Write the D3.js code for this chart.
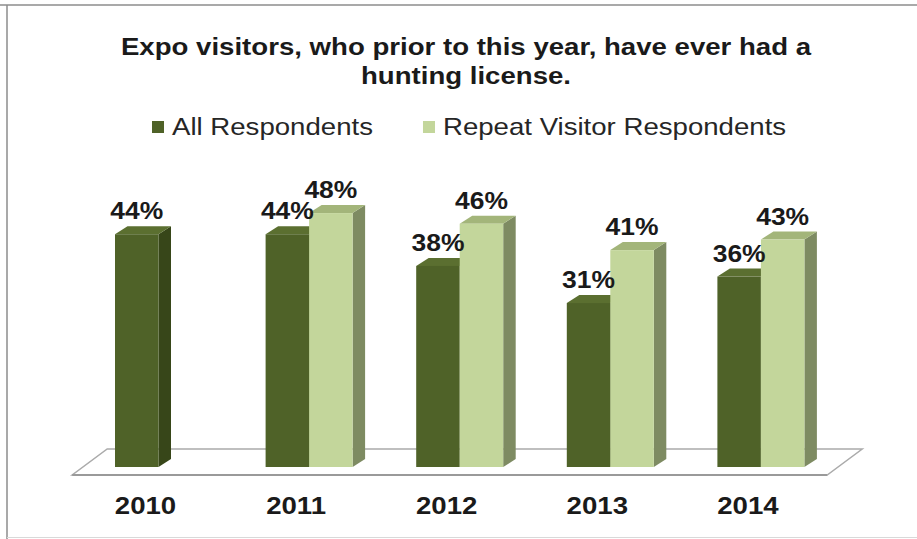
<!DOCTYPE html>
<html>
<head>
<meta charset="utf-8">
<script src="https://cdn.jsdelivr.net/npm/d3@7"></script>
<style>
  html, body { margin: 0; padding: 0; background: #ffffff; }
  svg { display: block; font-family: "Liberation Sans", Arial, sans-serif; }
</style>
</head>
<body>
<svg id="chart" width="917" height="539"></svg>
<script>
// ---- data ----
const titleLines = ["Expo visitors, who prior to this year, have ever had a", "hunting license."];
const categories = ["2010", "2011", "2012", "2013", "2014"];
const seriesNames = ["All Respondents", "Repeat Visitor Respondents"];
const allRespondents = [44, 44, 38, 31, 36];
const repeatVisitors = [null, 48, 46, 41, 43];

// ---- styles ----
const faceColors = [
  { front: "#4f6228", side: "#374619", top: "#5b6f30" },
  { front: "#c3d69b", side: "#7e8b62", top: "#a3b57a" }
];
const stretch = 1.15;

const svg = d3.select("#chart");
const W = 917, H = 539;

// frame
svg.append("rect").attr("x", 0).attr("y", 0).attr("width", W).attr("height", H).attr("fill", "#fff");
svg.append("line").attr("x1", 0).attr("x2", W).attr("y1", 5).attr("y2", 5).attr("stroke", "#8c8c8c").attr("stroke-width", 1.5);
svg.append("line").attr("x1", 7).attr("x2", 7).attr("y1", 5).attr("y2", H).attr("stroke", "#8c8c8c").attr("stroke-width", 1.5);
svg.append("line").attr("x1", 7).attr("x2", W).attr("y1", 537.5).attr("y2", 537.5).attr("stroke", "#d9d9d9").attr("stroke-width", 1);

// scales
const y = d3.scaleLinear().domain([0, 60]).range([467, 149.6]);
const x0 = d3.scaleBand().domain(categories).range([83.2, 836.2]).paddingInner(0).paddingOuter(0);
const groupW = 87;
const x1 = d3.scaleBand().domain(seriesNames).range([0, groupW]);
const groupOff = (x0.bandwidth() - groupW) / 2;
const depth = { dx: 12.5, dy: -8 };

// floor
const floorFront = y(0) + 8, floorBack = y(0) - 18;
const fx0 = x0.range()[0] - 11, fx1 = x0.range()[1] - 9;
const floorDx = 35;
svg.append("polygon")
  .attr("points", [[fx0, floorFront], [fx1, floorFront], [fx1 + floorDx, floorBack], [fx0 + floorDx, floorBack]].map(p => p.join(",")).join(" "))
  .attr("fill", "#ffffff").attr("stroke", "#ababab").attr("stroke-width", 1.5);
svg.append("line").attr("x1", fx0).attr("x2", fx1).attr("y1", floorFront).attr("y2", floorFront)
  .attr("stroke", "#9a9a9a").attr("stroke-width", 2);

// bars
const barData = [];
categories.forEach((c, i) => {
  [allRespondents[i], repeatVisitors[i]].forEach((v, s) => {
    if (v != null) barData.push({ cat: c, s, v, name: seriesNames[s] });
  });
});

const bars = svg.append("g").selectAll("g.bar").data(barData).join("g").attr("class", "bar");
bars.each(function(d) {
  const g = d3.select(this);
  const xl = x0(d.cat) + groupOff + x1(d.name);
  const xr = xl + x1.bandwidth();
  const yt = y(d.v), yb = y(0);
  const c = faceColors[d.s];
  g.append("polygon")
    .attr("points", [[xr, yt], [xr + depth.dx, yt + depth.dy], [xr + depth.dx, yb + depth.dy], [xr, yb]].map(p => p.join(",")).join(" "))
    .attr("fill", c.side);
  g.append("polygon")
    .attr("points", [[xl, yt], [xr, yt], [xr + depth.dx, yt + depth.dy], [xl + depth.dx, yt + depth.dy]].map(p => p.join(",")).join(" "))
    .attr("fill", c.top);
  g.append("rect").attr("x", xl).attr("y", yt).attr("width", xr - xl).attr("height", yb - yt).attr("fill", c.front);
});

// value labels
svg.append("g").selectAll("text").data(barData).join("text")
  .attr("transform", d => `translate(${x0(d.cat) + groupOff + x1(d.name) + x1.bandwidth() / 2},${y(d.v) - 15}) scale(${stretch},1)`)
  .attr("text-anchor", "middle")
  .attr("font-size", 23).attr("font-weight", "bold").attr("fill", "#1a1a1a")
  .text(d => d.v + "%");

// category labels
svg.append("g").selectAll("text").data(categories).join("text")
  .attr("transform", d => `translate(${x0(d) + x0.bandwidth() / 2 - 13},${514}) scale(${stretch},1)`)
  .attr("text-anchor", "middle")
  .attr("font-size", 24).attr("font-weight", "bold").attr("fill", "#1a1a1a")
  .text(d => d);

// title
svg.append("g").selectAll("text").data(titleLines).join("text")
  .attr("transform", (d, i) => `translate(466,${55 + i * 29}) scale(${stretch},1)`)
  .attr("text-anchor", "middle")
  .attr("font-size", 24).attr("font-weight", "bold").attr("fill", "#1a1a1a")
  .text(d => d);

// legend
const legend = svg.append("g");
let lx = 152;
seriesNames.forEach((name, i) => {
  legend.append("rect").attr("x", lx).attr("y", 121).attr("width", 12).attr("height", 12).attr("fill", faceColors[i].front);
  const t = legend.append("text")
    .attr("transform", `translate(${lx + 20},135) scale(${stretch},1)`)
    .attr("font-size", 24).attr("fill", "#262626")
    .text(name);
  const w = t.node().getComputedTextLength() * stretch;
  lx = lx + 20 + w + 50;
});
</script>
</body>
</html>
